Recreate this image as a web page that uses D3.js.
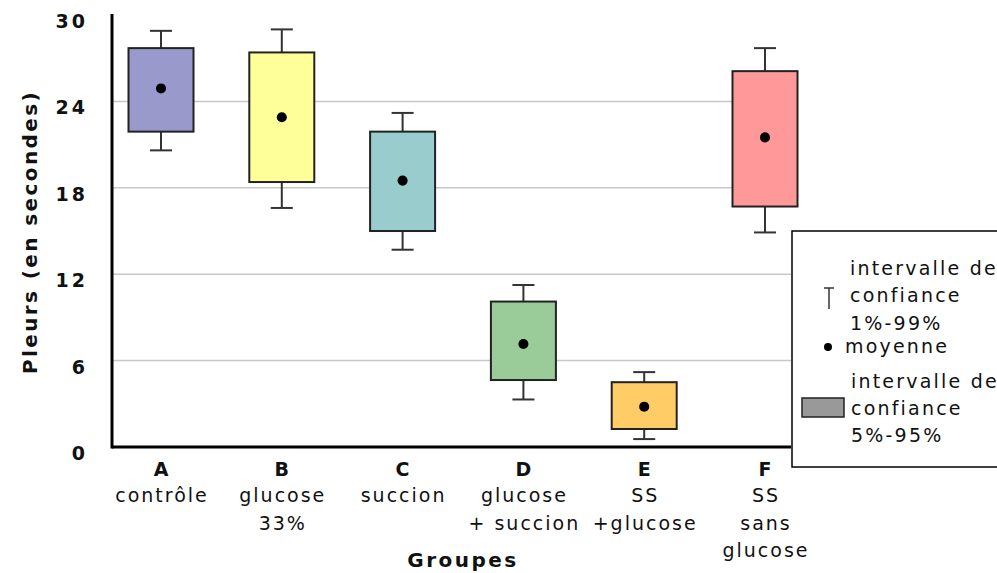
<!DOCTYPE html>
<html lang="fr">
<head>
  <meta charset="UTF-8">
  <title>Pleurs par groupe</title>
  <style>
    body { margin: 0; background: #fff; }
    text { font-family: "DejaVu Sans", Verdana, sans-serif; fill: #111; }
    .grid line { stroke: #c8c8c8; stroke-width: 1.5px; }
  </style>
</head>
<body>
  <div id="chart"></div>
  <script src="https://d3js.org/d3.v7.min.js"></script>
  <script>
    // data
    const groups = ["A", "B", "C", "D", "E", "F"];
    const groupLabels = [
      ["contrôle"],
      ["glucose", "33%"],
      ["succion"],
      ["glucose", "+ succion"],
      ["SS", "+glucose"],
      ["SS", "sans", "glucose"]
    ];
    const low1 = [20.6, 16.6, 13.7, 3.3, 0.55, 14.9];   // 1%
    const low5 = [21.9, 18.4, 15.0, 4.65, 1.25, 16.7];  // 5%
    const means = [24.9, 22.9, 18.5, 7.15, 2.8, 21.5];
    const high95 = [27.7, 27.4, 21.9, 10.1, 4.5, 26.1];
    const high99 = [28.9, 29.0, 23.2, 11.25, 5.2, 27.7];
    const colors = ["#9999cc", "#ffff99", "#99cccc", "#99cc99", "#ffcc66", "#ff9999"];
    const yTicks = [0, 6, 12, 18, 24, 30];

    const width = 997, height = 573;
    const x0 = 112, x1 = 791, yTop = 15, yBot = 447;

    const svg = d3.select("#chart").append("svg")
      .attr("width", width).attr("height", height);

    const x = d3.scalePoint().domain(groups).range([161, 765]);
    const y = d3.scaleLinear().domain([0, 30]).range([yBot, yTop]);

    // gridlines
    svg.append("g").attr("class", "grid")
      .selectAll("line").data(yTicks.filter(d => d > 0 && d < 30)).join("line")
      .attr("x1", x0).attr("x2", x1)
      .attr("y1", d => y(d)).attr("y2", d => y(d));

    // y tick labels
    svg.append("g").selectAll("text").data(yTicks).join("text")
      .attr("x", 88).attr("y", d => y(d) + 13)
      .attr("text-anchor", "end")
      .style("font-size", "19px").style("font-weight", "bold")
      .style("letter-spacing", "3px")
      .text(d => d);

    // boxes
    const bw = 65, cw = 22;
    const g = svg.append("g").selectAll("g").data(groups).join("g");
    g.append("line")
      .attr("x1", d => x(d)).attr("x2", d => x(d))
      .attr("y1", (d, i) => y(high99[i])).attr("y2", (d, i) => y(low1[i]))
      .attr("stroke", "#333").attr("stroke-width", 2);
    g.append("line")
      .attr("x1", d => x(d) - cw / 2).attr("x2", d => x(d) + cw / 2)
      .attr("y1", (d, i) => y(high99[i])).attr("y2", (d, i) => y(high99[i]))
      .attr("stroke", "#333").attr("stroke-width", 2);
    g.append("line")
      .attr("x1", d => x(d) - cw / 2).attr("x2", d => x(d) + cw / 2)
      .attr("y1", (d, i) => y(low1[i])).attr("y2", (d, i) => y(low1[i]))
      .attr("stroke", "#333").attr("stroke-width", 2);
    g.append("rect")
      .attr("x", d => x(d) - bw / 2).attr("width", bw)
      .attr("y", (d, i) => y(high95[i]))
      .attr("height", (d, i) => y(low5[i]) - y(high95[i]))
      .attr("fill", (d, i) => colors[i])
      .attr("stroke", "#222").attr("stroke-width", 2);
    g.append("path")
      .attr("d", d3.symbol(d3.symbolCircle, 80))
      .attr("transform", (d, i) => `translate(${x(d)},${y(means[i])})`)
      .attr("fill", "#000");

    // axes lines
    svg.append("line").attr("x1", x0).attr("x2", x0).attr("y1", yTop - 1).attr("y2", yBot + 1.5)
      .attr("stroke", "#000").attr("stroke-width", 3);
    svg.append("line").attr("x1", x0).attr("x2", x1).attr("y1", yBot).attr("y2", yBot)
      .attr("stroke", "#000").attr("stroke-width", 3);

    // x labels
    const xl = svg.append("g").selectAll("text").data(groups).join("text")
      .attr("x", d => x(d) + 1).attr("y", 476)
      .attr("text-anchor", "middle")
      .style("font-size", "19px")
      .style("letter-spacing", "2px");
    xl.append("tspan").style("font-weight", "bold").text(d => d);
    xl.each(function (d, i) {
      const t = d3.select(this);
      groupLabels[i].forEach((s, j) => {
        t.append("tspan").attr("x", x(d) + 1).attr("y", 502 + j * 27.5).text(s);
      });
    });

    // axis titles
    svg.append("text").attr("x", 463).attr("y", 567)
      .attr("text-anchor", "middle")
      .style("font-size", "20px").style("font-weight", "bold")
      .style("letter-spacing", "2.5px")
      .text("Groupes");
    svg.append("text")
      .attr("transform", "translate(37,232) rotate(-90)")
      .attr("text-anchor", "middle")
      .style("font-size", "20px").style("font-weight", "bold")
      .style("letter-spacing", "2.4px")
      .text("Pleurs (en secondes)");

    // legend
    const lg = svg.append("g");
    lg.append("rect").attr("x", 792).attr("y", 231).attr("width", 220).attr("height", 236)
      .attr("fill", "#fff").attr("stroke", "#000").attr("stroke-width", 1.5);
    lg.append("line").attr("x1", 829).attr("x2", 829).attr("y1", 288).attr("y2", 309)
      .attr("stroke", "#333").attr("stroke-width", 1.5);
    lg.append("line").attr("x1", 824).attr("x2", 834).attr("y1", 288).attr("y2", 288)
      .attr("stroke", "#333").attr("stroke-width", 1.5);
    lg.append("path").attr("d", d3.symbol(d3.symbolCircle, 50))
      .attr("transform", "translate(828,347)").attr("fill", "#000");
    lg.append("rect").attr("x", 802).attr("y", 398).attr("width", 42).attr("height", 19)
      .attr("fill", "#999").attr("stroke", "#222").attr("stroke-width", 1.5);
    const legendText = [
      ["intervalle de", 850, 275], ["confiance", 850, 302], ["1%-99%", 850, 330],
      ["moyenne", 845, 353],
      ["intervalle de", 851, 388], ["confiance", 851, 415], ["5%-95%", 851, 442]
    ];
    lg.selectAll("text.l").data(legendText).join("text")
      .attr("class", "l")
      .attr("x", d => d[1]).attr("y", d => d[2])
      .style("font-size", "19px")
      .style("letter-spacing", "2.2px")
      .text(d => d[0]);
  </script>
</body>
</html>
